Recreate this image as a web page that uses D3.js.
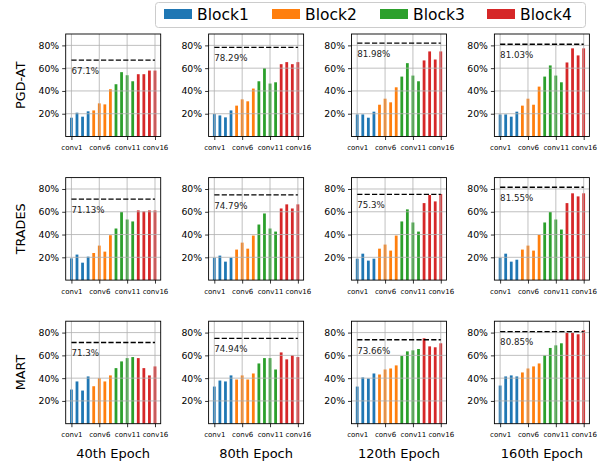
<!DOCTYPE html>
<html><head><meta charset="utf-8">
<script src="https://cdn.jsdelivr.net/npm/d3@7"></script>
<style>body{margin:0;background:#fff}svg{display:block;font-family:"DejaVu Sans",sans-serif}</style>
</head><body>
<script>
const layers = d3.range(1,17).map(i=>"conv"+i);
const blocks = ["Block1","Block2","Block3","Block4"];
const blockColors = ["#1f77b4","#ff7f0e","#2ca02c","#d62728"];
const methods = ["PGD-AT","TRADES","MART"];
const epochs = ["40th Epoch","80th Epoch","120th Epoch","160th Epoch"];
const xTickLabels = ["conv1","conv6","conv11","conv16"];
const yTicks = [20,40,60,80];

// overall accuracy (dashed line) per method x epoch
const overall = [
  [67.1, 78.29, 81.98, 81.03],
  [71.13, 74.79, 75.3, 81.55],
  [71.3, 74.94, 73.66, 80.85]
];
// per-layer values (%)
const pgd40  = [16.5,20.9,17.4,22.1, 22.9,29.1,28.2,41.5, 45.9,56.5,53.8,48.5, 54.7,54.7,57.9,57.9];
const pgd80  = [19.7,18.5,16.8,22.9, 27.1,32.6,30.9,42.1, 48.5,60.0,46.5,47.6, 63.5,65.3,63.5,65.3];
const pgd120 = [19.4,19.4,16.5,21.8, 27.9,33.2,30.0,43.2, 52.6,64.4,53.5,48.5, 66.8,74.7,67.6,74.7];
const pgd160 = [19.4,19.4,17.4,21.8, 27.1,33.2,27.9,43.8, 52.6,62.4,53.5,47.6, 65.0,77.4,71.2,77.4];
const trades40  = [19.1,22.4,15.3,20.6, 23.8,30.3,25.0,39.4, 45.3,59.7,53.2,51.5, 61.2,60.3,61.2,61.2];
const trades80  = [19.7,21.5,16.2,19.7, 26.8,32.9,27.6,39.1, 48.8,58.5,45.3,42.6, 62.9,66.5,62.9,66.5];
const trades120 = [18.8,23.2,17.1,18.8, 27.6,31.2,25.9,39.1, 51.5,62.1,50.6,42.6, 67.6,74.7,69.1,75.6];
const trades160 = [19.7,23.2,16.2,17.9, 26.8,30.3,25.9,39.7, 50.6,59.7,53.2,44.4, 67.6,76.2,73.5,76.2];
const mart40  = [30.0,37.1,29.1,41.5, 32.9,40.0,37.1,42.4, 48.8,54.7,57.6,58.5, 57.6,48.8,42.4,50.3];
const mart80  = [32.6,37.9,37.1,42.4, 38.8,42.4,38.8,44.1, 52.9,57.6,57.6,47.6, 62.6,56.5,60.0,58.5];
const mart120 = [32.6,40.6,39.7,44.1, 43.2,47.6,48.5,51.2, 59.4,63.5,64.4,65.6, 75.0,67.9,67.1,70.6];
const mart160 = [33.5,41.5,42.4,41.5, 45.0,48.5,50.3,52.9, 60.0,66.5,68.8,70.6, 79.7,79.7,78.5,82.1];
const values = [
  [pgd40, pgd80, pgd120, pgd160],
  [trades40, trades80, trades120, trades160],
  [mart40, mart80, mart120, mart160]
];

const W=604, H=465;
const svg = d3.select("body").append("svg").attr("width",W).attr("height",H);

const pw=95, ph=102.5;
const colLeft = c => 65.7 + c*142.9;
const rowTop = r => 34 + r*143.6;

const x = d3.scaleLinear().domain([-1.025,16.025]).range([0,pw]);
const y = d3.scaleLinear().domain([0,90]).range([ph,0]);
const barW = x(0.5)-x(0);

methods.forEach((m,r)=>{
  epochs.forEach((e,c)=>{
    const g = svg.append("g").attr("transform",`translate(${colLeft(c)},${rowTop(r)})`);
    const vals = values[r][c];
    // bars
    g.selectAll("rect.bar").data(vals).enter().append("rect")
      .attr("x",(d,i)=>x(i)-barW/2).attr("width",barW)
      .attr("y",d=>y(d)).attr("height",d=>y(0)-y(d))
      .attr("fill",(d,i)=>blockColors[Math.floor(i/4)]);
    // grid
    g.selectAll("line.vg").data([0,5,10,15]).enter().append("line")
      .attr("x1",d=>x(d)).attr("x2",d=>x(d)).attr("y1",0).attr("y2",ph)
      .attr("stroke","#b0b0b0").attr("stroke-width",0.8);
    g.selectAll("line.hg").data(yTicks).enter().append("line")
      .attr("x1",0).attr("x2",pw).attr("y1",d=>y(d)).attr("y2",d=>y(d))
      .attr("stroke","#b0b0b0").attr("stroke-width",0.8);
    // axes
    const ya = d3.axisLeft(y).tickValues(yTicks).tickFormat(d=>d+"%").tickSize(3.5).tickPadding(3);
    const yg = g.append("g").call(ya);
    yg.select(".domain").remove();
    yg.selectAll("text").attr("font-size","9.3px").attr("fill","#000").attr("font-family","DejaVu Sans");
    yg.selectAll("line").attr("stroke","#000").attr("stroke-width",0.8);
    const xa = d3.axisBottom(x).tickValues([0,5,10,15]).tickFormat((d,i)=>xTickLabels[i]).tickSize(3.5).tickPadding(5);
    const xg = g.append("g").attr("transform",`translate(0,${ph})`).call(xa);
    xg.select(".domain").remove();
    xg.selectAll("text").attr("font-size","7px").attr("fill","#000").attr("font-family","DejaVu Sans");
    xg.selectAll("line").attr("stroke","#000").attr("stroke-width",0.8);
    // dashed overall line
    const ov = overall[r][c];
    g.append("line").attr("x1",x(0)).attr("x2",x(15)).attr("y1",y(ov)).attr("y2",y(ov))
      .attr("stroke","#000").attr("stroke-width",1.4).attr("stroke-dasharray","5.2,2.2");
    g.append("text").attr("x",x(0)).attr("y",y(ov)+13.8).text(ov+"%")
      .attr("font-size","8.7px").attr("fill","#222");
    // frame
    g.append("rect").attr("x",0).attr("y",0).attr("width",pw).attr("height",ph)
      .attr("fill","none").attr("stroke","#000").attr("stroke-width",0.9);
  });
});

// row labels
methods.forEach((m,r)=>{
  svg.append("text").attr("transform",`translate(20.5,${rowTop(r)+ph/2}) rotate(-90)`)
    .attr("text-anchor","middle").attr("dominant-baseline","central")
    .attr("font-size","12.8px").text(m);
});
// column labels
epochs.forEach((e,c)=>{
  svg.append("text").attr("x",colLeft(c)+pw/2).attr("y",457.5)
    .attr("text-anchor","middle").attr("font-size","13px").text(e);
});

// legend
const lg = svg.append("g");
lg.append("rect").attr("x",155.5).attr("y",2.5).attr("width",430).attr("height",25).attr("rx",3)
  .attr("fill","#fff").attr("stroke","#cccccc").attr("stroke-width",1);
const legX = [164, 272, 380, 487];
blocks.forEach((b,i)=>{
  lg.append("rect").attr("x",legX[i]).attr("y",9).attr("width",28).attr("height",10).attr("fill",blockColors[i]);
  lg.append("text").attr("x",legX[i]+33).attr("y",20).attr("font-size","15.5px").attr("fill","#000").text(b);
});
</script>
</body></html>
